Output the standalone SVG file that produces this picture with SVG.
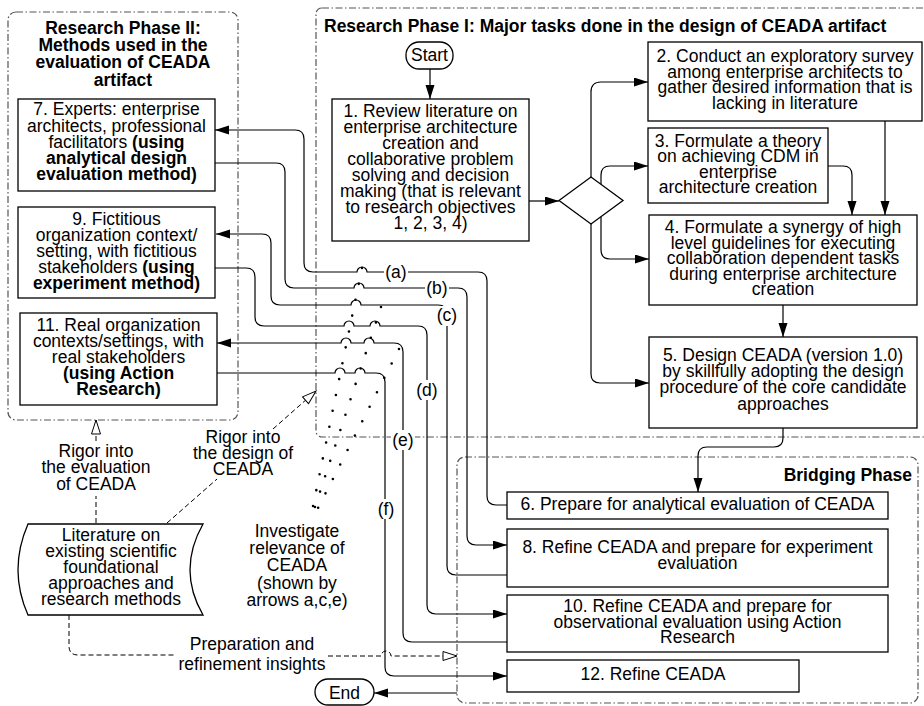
<svg xmlns="http://www.w3.org/2000/svg" width="924" height="706" viewBox="0 0 924 706">
<style>
.t{font-family:"Liberation Sans",Arial,sans-serif;font-size:17.5px;text-anchor:middle;fill:#000}
.b{font-weight:bold}
.box{fill:#fff;stroke:#000;stroke-width:1.3}
.c{fill:none;stroke:#000;stroke-width:1.2}
.cont{fill:none;stroke:#555;stroke-width:1.2;stroke-dasharray:7 2.5 1.5 2.5}
.dash{fill:none;stroke:#000;stroke-width:1;stroke-dasharray:5 3}
.dots{fill:none;stroke:#000;stroke-width:2.6;stroke-linecap:round;stroke-dasharray:0 16.2}
.lbl{fill:#fff;stroke:none}
</style>
<defs>
<marker id="arr" markerUnits="userSpaceOnUse" markerWidth="15" markerHeight="10" refX="14" refY="4.5" orient="auto"><path d="M0,0 L14,4.5 L0,9 z" fill="#000"/></marker>
<marker id="oarr" markerUnits="userSpaceOnUse" markerWidth="17" markerHeight="12" refX="15" refY="5.5" orient="auto"><path d="M1,1 L15,5.5 L1,10 z" fill="#fff" stroke="#000" stroke-width="1"/></marker>
</defs>

<g id="containers">
<rect id="phase2" class="cont" x="8" y="12" width="230" height="408" rx="8"/>
<rect id="phase1" class="cont" x="316" y="8" width="640" height="429" rx="6"/>
<rect id="bridging" class="cont" x="457" y="457" width="461" height="246" rx="8"/>
<text class="t b" x="123" y="34">Research Phase II:</text>
<text class="t b" x="123" y="51">Methods used in the</text>
<text class="t b" x="123" y="68">evaluation of CEADA</text>
<text class="t b" x="123" y="86">artifact</text>
<text class="t b" x="324" y="32" style="text-anchor:start">Research Phase I: Major tasks done in the design of CEADA artifact</text>
<text class="t b" x="912" y="481" style="text-anchor:end">Bridging Phase</text>
</g>

<g id="connectors">
<path class="c" d="M430,69 V99" marker-end="url(#arr)"/>
<path class="c" d="M529,201 H559" marker-end="url(#arr)"/>
<path class="c" d="M591,177 V92 Q591,82 601,82 H648" marker-end="url(#arr)"/>
<path class="c" d="M601,184 V175 Q601,166 610,166 H648" marker-end="url(#arr)"/>
<path class="c" d="M601,217 V250 Q601,259 610,259 H649" marker-end="url(#arr)"/>
<path class="c" d="M591,224 V374 Q591,383 600,383 H649" marker-end="url(#arr)"/>
<path class="c" d="M885,121 V215" marker-end="url(#arr)"/>
<path class="c" d="M828,166 H843 Q852,166 852,175 V215" marker-end="url(#arr)"/>
<path class="c" d="M783,305 V337" marker-end="url(#arr)"/>
<path class="c" d="M783,428 V438 Q783,447 774,447 H707 Q698,447 698,456 V492" marker-end="url(#arr)"/>
<path class="c" d="M457,693 H374" marker-end="url(#arr)"/>
<!-- (a) -->
<path class="c" d="M507,505 H496 Q487,505 487,496 V281 Q487,272 478,272 H367 A5,5 0 0 0 357,272 H313 Q304,272 304,263 V139 Q304,130 295,130 H215" marker-end="url(#arr)"/>
<!-- (b) -->
<path class="c" d="M215,163 H276 Q285,163 285,172 V279 Q285,288 294,288 H354 A5,5 0 0 1 364,288 H458 Q467,288 467,297 V536 Q467,545 476,545 H507" marker-end="url(#arr)"/>
<!-- (c) -->
<path class="c" d="M507,575 H456 Q447,575 447,566 V314 Q447,305 438,305 H361 A5,5 0 0 0 351,305 H280 Q271,305 271,296 V243 Q271,234 262,234 H216" marker-end="url(#arr)"/>
<!-- (d) -->
<path class="c" d="M215,268 H246 Q255,268 255,277 V317 Q255,326 264,326 H344 A5,5 0 0 1 354,326 H370 A5,5 0 0 1 380,326 H418 Q427,326 427,335 V605 Q427,614 436,614 H507" marker-end="url(#arr)"/>
<!-- (e) -->
<path class="c" d="M507,642 H412 Q403,642 403,633 V352 Q403,343 394,343 H374 A5,5 0 0 0 364,343 H351 A5,5 0 0 0 341,343 H217" marker-end="url(#arr)"/>
<!-- (f) -->
<path class="c" d="M217,373 H335 A5,5 0 0 1 345,373 H355 A5,5 0 0 1 365,373 H376 Q385,373 385,382 V667 Q385,676 394,676 H507" marker-end="url(#arr)"/>
<!-- dotted investigate lines -->
<path class="dots" d="M362,268 L311,516"/>
<path class="dots" d="M381,307 L312,516"/>
<path class="dots" d="M399,349 L314,516"/>
<!-- dashed rigor lines -->
<path class="dash" d="M96,523 V496"/>
<path class="dash" d="M96,441 V420" marker-end="url(#oarr)"/>
<path class="dash" d="M167,523 L217,479"/>
<path class="dash" d="M273,429 L316,391" marker-end="url(#oarr)"/>
<path class="dash" d="M69,615 V646 Q69,655 78,655 H176"/>
<path class="dash" d="M328,656 H381 A5,5 0 0 1 391,656 H457" marker-end="url(#oarr)"/>
<!-- labels -->
<rect class="lbl" x="384" y="262" width="24" height="20"/>
<text class="t" x="396" y="278">(a)</text>
<rect class="lbl" x="425" y="278" width="24" height="20"/>
<text class="t" x="437" y="294">(b)</text>
<rect class="lbl" x="435" y="306" width="24" height="20"/>
<text class="t" x="447" y="321">(c)</text>
<rect class="lbl" x="415" y="380" width="24" height="20"/>
<text class="t" x="427" y="396">(d)</text>
<rect class="lbl" x="391" y="430" width="24" height="20"/>
<text class="t" x="403" y="446">(e)</text>
<rect class="lbl" x="376" y="499" width="20" height="20"/>
<text class="t" x="386" y="515">(f)</text>
<text class="t" x="96" y="457">Rigor into</text>
<text class="t" x="96" y="473">the evaluation</text>
<text class="t" x="96" y="490">of CEADA</text>
<text class="t" x="243" y="443">Rigor into</text>
<text class="t" x="243" y="459">the design of</text>
<text class="t" x="243" y="475">CEADA</text>
<text class="t" x="252" y="650">Preparation and</text>
<text class="t" x="252" y="670">refinement insights</text>
<text class="t" x="297" y="537">Investigate</text>
<text class="t" x="297" y="554">relevance of</text>
<text class="t" x="297" y="571">CEADA</text>
<text class="t" x="297" y="589">(shown by</text>
<text class="t" x="297" y="606">arrows a,c,e)</text>
</g>

<g id="start">
<rect class="box" x="406" y="42" width="47" height="27" rx="13"/>
<text class="t" x="429.5" y="61">Start</text>
</g>
<g id="end">
<rect class="box" x="315" y="679" width="59" height="26" rx="13"/>
<text class="t" x="344.5" y="699">End</text>
</g>
<g id="decision">
<path class="box" d="M559,200.5 L591,177 L623,200.5 L591,224 Z"/>
</g>
<g id="n1">
<rect class="box" x="332" y="99" width="197" height="142"/>
<text class="t"><tspan x="430.5" y="117">1. Review literature on</tspan><tspan x="430.5" y="133">enterprise architecture</tspan><tspan x="430.5" y="149">creation and</tspan><tspan x="430.5" y="165">collaborative problem</tspan><tspan x="430.5" y="181">solving and decision</tspan><tspan x="430.5" y="197">making (that is relevant</tspan><tspan x="430.5" y="213">to research objectives</tspan><tspan x="430.5" y="229">1, 2, 3, 4)</tspan></text>
</g>
<g id="n2">
<rect class="box" x="648" y="42" width="274" height="79"/>
<text class="t"><tspan x="785" y="62">2. Conduct an exploratory survey</tspan><tspan x="785" y="77.5">among enterprise architects to</tspan><tspan x="785" y="93">gather desired information that is</tspan><tspan x="785" y="109">lacking in literature</tspan></text>
</g>
<g id="n3">
<rect class="box" x="648" y="128" width="180" height="75"/>
<text class="t"><tspan x="738" y="147">3. Formulate a theory</tspan><tspan x="738" y="162">on achieving CDM in</tspan><tspan x="738" y="178">enterprise</tspan><tspan x="738" y="193">architecture creation</tspan></text>
</g>
<g id="n4">
<rect class="box" x="649" y="215" width="268" height="90"/>
<text class="t"><tspan x="783" y="233">4. Formulate a synergy of high</tspan><tspan x="783" y="249">level guidelines for executing</tspan><tspan x="783" y="264">collaboration dependent tasks</tspan><tspan x="783" y="280">during enterprise architecture</tspan><tspan x="783" y="295">creation</tspan></text>
</g>
<g id="n5">
<rect class="box" x="649" y="337" width="268" height="91"/>
<text class="t"><tspan x="783" y="361">5. Design CEADA (version 1.0)</tspan><tspan x="783" y="377">by skillfully adopting the design</tspan><tspan x="783" y="393">procedure of the core candidate</tspan><tspan x="783" y="410">approaches</tspan></text>
</g>
<g id="n6">
<rect class="box" x="507" y="492" width="381" height="27"/>
<text class="t" x="697.5" y="510">6. Prepare for analytical evaluation of CEADA</text>
</g>
<g id="n7">
<rect class="box" x="18" y="99" width="197" height="92"/>
<text class="t"><tspan x="116.5" y="115">7. Experts: enterprise</tspan><tspan x="116.5" y="131.5">architects, professional</tspan><tspan x="116.5" y="148">facilitators <tspan class="b">(using</tspan></tspan><tspan class="b" x="116.5" y="164">analytical design</tspan><tspan class="b" x="116.5" y="180">evaluation method)</tspan></text>
</g>
<g id="n8">
<rect class="box" x="507" y="529" width="381" height="58"/>
<text class="t"><tspan x="697.5" y="553">8. Refine CEADA and prepare for experiment</tspan><tspan x="697.5" y="569">evaluation</tspan></text>
</g>
<g id="n9">
<rect class="box" x="18" y="207" width="197" height="91"/>
<text class="t"><tspan x="116.5" y="225">9. Fictitious</tspan><tspan x="116.5" y="241">organization context/</tspan><tspan x="116.5" y="257">setting, with fictitious</tspan><tspan x="116.5" y="273">stakeholders <tspan class="b">(using</tspan></tspan><tspan class="b" x="116.5" y="289">experiment method)</tspan></text>
</g>
<g id="n10">
<rect class="box" x="507" y="595" width="381" height="57"/>
<text class="t"><tspan x="697.5" y="612">10. Refine CEADA and prepare for</tspan><tspan x="697.5" y="628">observational evaluation using Action</tspan><tspan x="697.5" y="643">Research</tspan></text>
</g>
<g id="n11">
<rect class="box" x="20" y="313" width="197" height="92"/>
<text class="t"><tspan x="118.5" y="331">11. Real organization</tspan><tspan x="118.5" y="347">contexts/settings, with</tspan><tspan x="118.5" y="363">real stakeholders</tspan><tspan class="b" x="118.5" y="379">(using Action</tspan><tspan class="b" x="118.5" y="395">Research)</tspan></text>
</g>
<g id="n12">
<rect class="box" x="507" y="660" width="292" height="32"/>
<text class="t" x="653" y="680">12. Refine CEADA</text>
</g>
<g id="literature">
<path class="box" d="M28,524 H203 Q177,570 203,615 H28 Q8,570 28,524 Z"/>
<text class="t"><tspan x="111" y="541">Literature on</tspan><tspan x="111" y="557">existing scientific</tspan><tspan x="111" y="573">foundational</tspan><tspan x="111" y="589">approaches and</tspan><tspan x="111" y="605">research methods</tspan></text>
</g>
</svg>
